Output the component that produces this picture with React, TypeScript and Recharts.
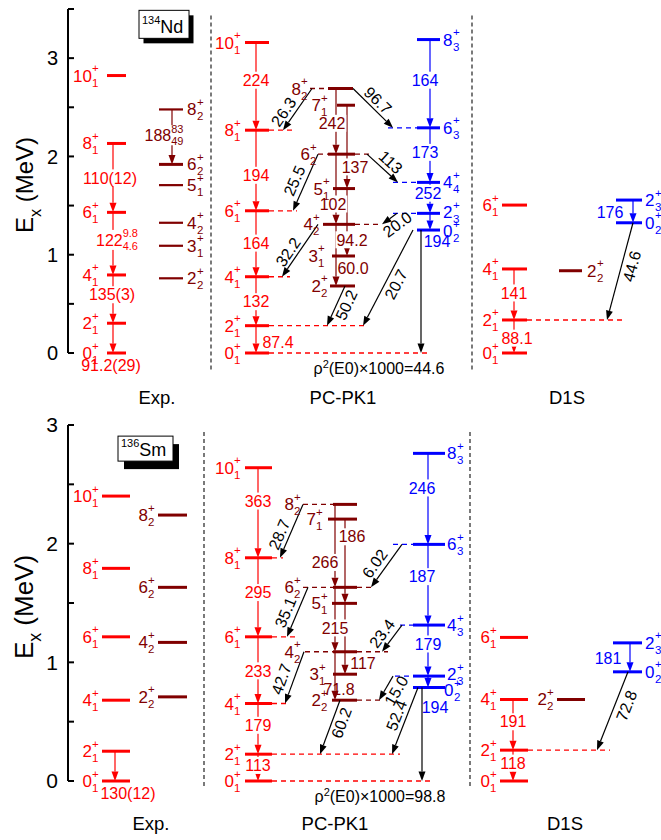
import React from 'react';
import { ComposedChart, XAxis, YAxis, ReferenceLine, ReferenceDot, Scatter } from 'recharts';

const FONT = '"Liberation Sans", Arial, Helvetica, sans-serif';
const RED = '#ff0000';
const DARK = '#800000';
const BLUE = '#0000ff';
const INK = '#000000';

const methods = ['Exp.', 'PC-PK1', 'D1S'];
const yrastStates = ['0_1', '2_1', '4_1', '6_1', '8_1', '10_1'];

// ---- 134Nd: level energies (MeV) and B(E2) values (W.u.) ----
const ndExpYrastE = [0, 0.303, 0.794, 1.431, 2.132, 2.823];
const ndExpYrastBE2 = ['91.2(29)', '135(3)', '122^9.8_4.6', '110(12)']; // 2->0 ... 8->6
const ndExpGammaStates = ['2_2', '3_1', '4_2', '5_1', '6_2', '8_2'];
const ndExpGammaE = [0.76, 1.091, 1.325, 1.708, 1.919, 2.478];
const ndExpGammaBE2 = ['188^83_49']; // 8_2 -> 6_2
const ndPcYrastE = [0, 0.278, 0.776, 1.447, 2.267, 3.159];
const ndPcYrastBE2 = ['87.4', '132', '164', '194', '224'];
const ndPcGammaStates = ['2_2', '3_1', '4_2', '5_1', '6_2', '7_1', '8_2'];
const ndPcGammaE = [0.682, 0.987, 1.309, 1.673, 2.023, 2.521, 2.691];
const ndPcGammaBE2 = ['60.0', '94.2', '102', '137', '242']; // 4->2, 5->3, 6->4, 7->5, 8->6
const ndPcThirdStates = ['0_2', '2_3', '4_4', '6_3', '8_3'];
const ndPcThirdE = [1.251, 1.421, 1.736, 2.291, 3.189];
const ndPcThirdBE2 = ['194', '252', '173', '164'];
const ndPcCrossBE2 = ['26.3', '96.7', '25.5', '113', '32.2', '20.0', '20.7', '50.2'];
const ndPcRhoE0 = 44.6;
const ndD1sYrastE = [0, 0.336, 0.855, 1.505];
const ndD1sYrastBE2 = ['88.1', '141'];
const ndD1sGammaE = [0.837];
const ndD1sThirdE = [1.325, 1.556]; // 0_2, 2_3
const ndD1sBE2 = ['176', '44.6']; // 2_3->0_2, 0_2->2_1

// ---- 136Sm ----
const smExpYrastE = [0, 0.251, 0.681, 1.215, 1.792, 2.401];
const smExpYrastBE2 = ['130(12)'];
const smExpGammaStates = ['2_2', '4_2', '6_2', '8_2'];
const smExpGammaE = [0.709, 1.168, 1.632, 2.241];
const smPcYrastE = [0, 0.226, 0.653, 1.215, 1.881, 2.64];
const smPcYrastBE2 = ['113', '179', '233', '295', '363'];
const smPcGammaStates = ['2_2', '3_1', '4_2', '5_1', '6_2', '7_1', '8_2'];
const smPcGammaE = [0.681, 0.9, 1.089, 1.497, 1.632, 2.207, 2.331];
const smPcGammaBE2 = ['71.8', '117', '215', '186', '266'];
const smPcThirdStates = ['0_2', '2_3', '4_3', '6_3', '8_3'];
const smPcThirdE = [0.788, 0.884, 1.314, 1.994, 2.761];
const smPcThirdBE2 = ['194', '179', '187', '246'];
const smPcCrossBE2 = ['28.7', '6.02', '35.1', '23.4', '42.7', '15.0', '60.2', '52.4'];
const smPcRhoE0 = 98.8;
const smD1sYrastE = [0, 0.26, 0.687, 1.21];
const smD1sYrastBE2 = ['118', '191'];
const smD1sGammaE = [0.687];
const smD1sThirdE = [0.92, 1.164];
const smD1sBE2 = ['181', '72.8'];

type Side = 'L' | 'R';
type Col = { x1: number; x2: number; lx: number; side: Side; w?: number; dl?: number; dr?: number; ly?: number };
type Level = Col & { id: string; j: string; k: string; e: number; color: string };
type Arrow = {
  a: string; b: string; x: number; x2?: number; v: string; c: string;
  t?: number; dx?: number; bg?: boolean; n?: number; s?: number; rho?: number;
};

function band(pre: string, states: string[], energies: number[], color: string, col: Col, tweak: Record<string, Partial<Col>> = {}): Level[] {
  return states.map((st, i) => {
    const [j, k] = st.split('_');
    return { ...col, ...(tweak[st] || {}), id: pre + st, j, k, e: energies[i], color };
  });
}

// approximate Arial advance widths (em)
const CW: Record<string, number> = { '.': 0.278, '(': 0.333, ')': 0.333, '=': 0.584, '×': 0.584, 'ρ': 0.58, E: 0.667 };
const textW = (s: string, fs: number) => [...s].reduce((a, ch) => a + (CW[ch] ?? 0.556) * fs, 0);

function ValueLabel({ x, y, v, color, bg }: { x: number; y: number; v: string; color: string; bg: boolean }) {
  const fs = 16;
  const ss = 11;
  const m = v.match(/^([^^]+)\^([^_]+)_(.+)$/);
  if (m) {
    const mw = textW(m[1], fs);
    const sw = Math.max(textW(m[2], ss), textW(m[3], ss));
    const x0 = x - (mw + sw) / 2;
    const base = y + 6;
    return (
      <g fill={color}>
        {bg && <rect x={x0 - 1} y={y - 10} width={mw + sw + 2} height={20} fill="#fff" />}
        <text x={x0} y={base} fontSize={fs}>{m[1]}</text>
        <text x={x0 + mw} y={base - 8.5} fontSize={ss}>{m[2]}</text>
        <text x={x0 + mw} y={base + 4} fontSize={ss}>{m[3]}</text>
      </g>
    );
  }
  const w = textW(v, fs);
  return (
    <g fill={color}>
      {bg && <rect x={x - w / 2 - 1} y={y - 8.5} width={w + 2} height={17} fill="#fff" />}
      <text x={x} y={y + 5.7} fontSize={fs} textAnchor="middle">{v}</text>
    </g>
  );
}

const levelShape = (lv: Level) => (p: any) => (
  <line x1={p.x1} y1={p.y1} x2={p.x2} y2={p.y2} stroke={lv.color} strokeWidth={lv.w ?? 3} />
);

const dashShape = (color: string) => (p: any) => (
  <line x1={p.x1} y1={p.y1} x2={p.x2} y2={p.y2} stroke={color} strokeWidth={1.3} strokeDasharray="5 4" />
);

const stateLabel = (lv: Level) => (p: any) => {
  const fs = 17;
  const ss = 11.5;
  const base = p.cy + 6 + (lv.ly ?? 0);
  if (lv.side === 'L') {
    const xs = p.cx - 7;
    return (
      <g fill={lv.color}>
        <text x={xs} y={base} fontSize={fs} textAnchor="end">{lv.j}</text>
        <text x={xs} y={base - 9.5} fontSize={ss}>+</text>
        <text x={xs} y={base + 5} fontSize={ss}>{lv.k}</text>
      </g>
    );
  }
  const xs = p.cx + textW(lv.j, fs) + 0.5;
  return (
    <g fill={lv.color}>
      <text x={p.cx} y={base} fontSize={fs}>{lv.j}</text>
      <text x={xs} y={base - 9.5} fontSize={ss}>+</text>
      <text x={xs} y={base + 5} fontSize={ss}>{lv.k}</text>
    </g>
  );
};

const arrowShape = (ar: Arrow) => (p: any) => {
  const { x1, y1, x2, y2 } = p;
  const len = Math.hypot(x2 - x1, y2 - y1) || 1;
  const ux = (x2 - x1) / len;
  const uy = (y2 - y1) / len;
  const hl = 9.5;
  const hw = 3.5;
  const bx = x2 - ux * hl;
  const by = y2 - uy * hl;
  const head = `${x2},${y2} ${bx - uy * hw},${by + ux * hw} ${bx + uy * hw},${by - ux * hw}`;
  let label: React.ReactNode = null;
  if (ar.rho !== undefined) {
    label = (
      <text x={x2 - 42} y={y2 + 21} fontSize={16} textAnchor="middle" fill={INK}>
        ρ<tspan dy={-6.5} fontSize={11}>2</tspan>
        <tspan dy={6.5}>(E0)×1000={ar.rho}</tspan>
      </text>
    );
  } else if (ar.x2 !== undefined) {
    let tx = ux;
    let ty = uy;
    if (tx < 0) { tx = -tx; ty = -ty; }
    const ang = (Math.atan2(ty, tx) * 180) / Math.PI;
    const n = ar.n ?? 9;
    const s = ar.s ?? 0;
    const mx = (x1 + x2) / 2 + ty * n + tx * s;
    const my = (y1 + y2) / 2 - tx * n + ty * s;
    label = (
      <text transform={`translate(${mx},${my}) rotate(${ang})`} y={5.7} fontSize={16} textAnchor="middle" fill={ar.c}>
        {ar.v}
      </text>
    );
  } else {
    const t = ar.t ?? 0.5;
    label = <ValueLabel x={x1 + (ar.dx ?? 0)} y={y1 + (y2 - y1) * t} v={ar.v} color={ar.c} bg={ar.bg ?? true} />;
  }
  return (
    <g>
      <line x1={x1} y1={y1} x2={bx} y2={by} stroke={ar.c} strokeWidth={1.2} />
      <polygon points={head} fill={ar.c} />
      {label}
    </g>
  );
};

type Panel = {
  levels: Level[]; arrows: Arrow[]; yMax: number; yTicks: number[];
  height: number; top: number; bottom: number; methodX: number[]; xMargin: number;
  tickFont: number; titleFont: number; seps: number[]; sepY: [number, number];
  nuclide: [string, string]; box: { x: number; y: number; w: number; h: number; fs: number; sh: [number, number] };
};

// ---------- 134Nd layout ----------
const ndLevels: Level[] = [
  ...band('e', yrastStates, ndExpYrastE, RED, { x1: 107, x2: 126, lx: 99, side: 'L' }),
  ...band('e', ndExpGammaStates, ndExpGammaE, DARK, { x1: 159, x2: 183, lx: 187, side: 'R', w: 2.2 }, { '6_2': { w: 3 } }),
  ...band('p', yrastStates, ndPcYrastE, RED, { x1: 245, x2: 269, lx: 241, side: 'L' }, {
    '0_1': { dr: 430 }, '2_1': { dr: 367 }, '4_1': { dr: 290 }, '6_1': { dr: 297 }, '8_1': { dr: 293 },
  }),
  ...band('p', ndPcGammaStates, ndPcGammaE, DARK, { x1: 328, x2: 355, lx: 328, side: 'L' }, {
    '2_2': { x1: 330 }, '3_1': { x1: 332, lx: 325 }, '4_2': { x1: 323, lx: 320, dr: 382 },
    '5_1': { x1: 333, lx: 330 }, '6_2': { dl: 318, dr: 373, lx: 317 }, '7_1': { x1: 337 },
    '8_2': { x2: 353, dl: 310, lx: 308 },
  }),
  ...band('p', ndPcThirdStates, ndPcThirdE, BLUE, { x1: 417, x2: 440, lx: 443, side: 'R' }, {
    '0_2': { ly: 1 }, '2_3': { dl: 393, ly: -1 }, '4_4': { dl: 393 }, '6_3': { dl: 388 },
  }),
  ...band('d', yrastStates.slice(0, 4), ndD1sYrastE, RED, { x1: 502, x2: 527, lx: 499, side: 'L' }, { '2_1': { dr: 625 } }),
  ...band('d', ['2_2'], ndD1sGammaE, DARK, { x1: 559, x2: 582, lx: 587, side: 'R' }),
  ...band('d', ['0_2', '2_3'], ndD1sThirdE, BLUE, { x1: 616, x2: 642, lx: 645, side: 'R' }),
];

const ndArrows: Arrow[] = [
  { a: 'e2_1', b: 'e0_1', x: 113, v: ndExpYrastBE2[0], c: RED, t: 1.42, dx: -2, bg: false },
  { a: 'e4_1', b: 'e2_1', x: 113, v: ndExpYrastBE2[1], c: RED, t: 0.41, dx: -1 },
  { a: 'e6_1', b: 'e4_1', x: 113, v: ndExpYrastBE2[2], c: RED, t: 0.44, dx: 4 },
  { a: 'e8_1', b: 'e6_1', x: 113, v: ndExpYrastBE2[3], c: RED, t: 0.5, dx: -3 },
  { a: 'e8_2', b: 'e6_2', x: 172, v: ndExpGammaBE2[0], c: DARK, t: 0.47, dx: -8 },

  { a: 'p2_1', b: 'p0_1', x: 256, v: ndPcYrastBE2[0], c: RED, t: 0.61, dx: 22, bg: false },
  { a: 'p4_1', b: 'p2_1', x: 256, v: ndPcYrastBE2[1], c: RED, t: 0.51 },
  { a: 'p6_1', b: 'p4_1', x: 256, v: ndPcYrastBE2[2], c: RED, t: 0.49 },
  { a: 'p8_1', b: 'p6_1', x: 256, v: ndPcYrastBE2[3], c: RED, t: 0.56 },
  { a: 'p10_1', b: 'p8_1', x: 256, v: ndPcYrastBE2[4], c: RED, t: 0.43 },

  { a: 'p4_2', b: 'p2_2', x: 336, v: ndPcGammaBE2[0], c: DARK, t: 0.72, dx: 17, bg: false },
  { a: 'p5_1', b: 'p3_1', x: 347, v: ndPcGammaBE2[1], c: DARK, t: 0.76, dx: 5 },
  { a: 'p6_2', b: 'p4_2', x: 336, v: ndPcGammaBE2[2], c: DARK, t: 0.71, dx: -3 },
  { a: 'p7_1', b: 'p5_1', x: 347, v: ndPcGammaBE2[3], c: DARK, t: 0.74, dx: 8 },
  { a: 'p8_2', b: 'p6_2', x: 336, v: ndPcGammaBE2[4], c: DARK, t: 0.53, dx: -4 },

  { a: 'p2_3', b: 'p0_2', x: 430, v: ndPcThirdBE2[0], c: BLUE, t: 1.7, dx: 7, bg: false },
  { a: 'p4_4', b: 'p2_3', x: 430, v: ndPcThirdBE2[1], c: BLUE, t: 0.35, dx: -2 },
  { a: 'p6_3', b: 'p4_4', x: 430, v: ndPcThirdBE2[2], c: BLUE, t: 0.45, dx: -5 },
  { a: 'p8_3', b: 'p6_3', x: 430, v: ndPcThirdBE2[3], c: BLUE, t: 0.46, dx: -5 },

  { a: 'p8_2', b: 'p8_1', x: 312, x2: 283, v: ndPcCrossBE2[0], c: INK, n: 10, s: -10 },
  { a: 'p8_2', b: 'p6_3', x: 353, x2: 393, v: ndPcCrossBE2[1], c: INK, n: 9, s: -2 },
  { a: 'p6_2', b: 'p6_1', x: 318, x2: 293, v: ndPcCrossBE2[2], c: INK, n: 11, s: -3 },
  { a: 'p6_2', b: 'p4_4', x: 367, x2: 398, v: ndPcCrossBE2[3], c: INK, n: 10, s: 2 },
  { a: 'p4_2', b: 'p4_1', x: 318, x2: 282, v: ndPcCrossBE2[4], c: INK, n: 9, s: -8 },
  { a: 'p2_3', b: 'p4_2', x: 397, x2: 382, v: ndPcCrossBE2[5], c: INK, n: -9, s: 3 },
  { a: 'p0_2', b: 'p2_1', x: 413, x2: 363, v: ndPcCrossBE2[6], c: INK, n: -10, s: -2 },
  { a: 'p2_2', b: 'p2_1', x: 345, x2: 327, v: ndPcCrossBE2[7], c: INK, n: -9, s: 5 },
  { a: 'p0_2', b: 'p0_1', x: 421, v: '', c: INK, rho: ndPcRhoE0 },

  { a: 'd2_1', b: 'd0_1', x: 514, v: ndD1sYrastBE2[0], c: RED, t: 0.55, dx: 3 },
  { a: 'd4_1', b: 'd2_1', x: 514, v: ndD1sYrastBE2[1], c: RED, t: 0.47 },
  { a: 'd2_3', b: 'd0_2', x: 633, v: ndD1sBE2[0], c: BLUE, t: 0.52, dx: -23, bg: false },
  { a: 'd0_2', b: 'd2_1', x: 633, x2: 607, v: ndD1sBE2[1], c: INK, n: -10, s: 8 },
];

// ---------- 136Sm layout ----------
const smLevels: Level[] = [
  ...band('e', yrastStates, smExpYrastE, RED, { x1: 102, x2: 130, lx: 99, side: 'L' }),
  ...band('e', smExpGammaStates, smExpGammaE, DARK, { x1: 158, x2: 187, lx: 155, side: 'L' }),
  ...band('p', yrastStates, smPcYrastE, RED, { x1: 245, x2: 272, lx: 241, side: 'L' }, {
    '0_1': { dr: 432 }, '2_1': { dr: 400 }, '4_1': { dr: 288 }, '6_1': { dr: 295 }, '8_1': { dr: 283 },
  }),
  ...band('p', smPcGammaStates, smPcGammaE, DARK, { x1: 333, x2: 357, lx: 328, side: 'L' }, {
    '2_2': { x1: 332, dr: 382 }, '3_1': { lx: 326 }, '4_2': { dl: 305, dr: 388, lx: 301 },
    '5_1': { x1: 332 }, '6_2': { dl: 303, dr: 373, lx: 301 }, '7_1': { x1: 328, lx: 323 },
    '8_2': { dl: 303, lx: 301 },
  }),
  ...band('p', smPcThirdStates, smPcThirdE, BLUE, { x1: 413, x2: 445, lx: 447, side: 'R' }, {
    '0_2': { ly: 3, lx: 444 }, '2_3': { dl: 395, ly: -2 }, '4_3': { dl: 400 }, '6_3': { dl: 393 },
  }),
  ...band('d', yrastStates.slice(0, 4), smD1sYrastE, RED, { x1: 500, x2: 528, lx: 497, side: 'L' }, { '2_1': { dr: 610 } }),
  ...band('d', ['2_2'], smD1sGammaE, DARK, { x1: 557, x2: 585, lx: 554, side: 'L' }),
  ...band('d', ['0_2', '2_3'], smD1sThirdE, BLUE, { x1: 613, x2: 642, lx: 645, side: 'R' }),
];

const smArrows: Arrow[] = [
  { a: 'e2_1', b: 'e0_1', x: 115, v: smExpYrastBE2[0], c: RED, t: 1.4, dx: 13, bg: false },

  { a: 'p2_1', b: 'p0_1', x: 258, v: smPcYrastBE2[0], c: RED, t: 0.42 },
  { a: 'p4_1', b: 'p2_1', x: 258, v: smPcYrastBE2[1], c: RED, t: 0.43 },
  { a: 'p6_1', b: 'p4_1', x: 258, v: smPcYrastBE2[2], c: RED, t: 0.51 },
  { a: 'p8_1', b: 'p6_1', x: 258, v: smPcYrastBE2[3], c: RED, t: 0.44 },
  { a: 'p10_1', b: 'p8_1', x: 258, v: smPcYrastBE2[4], c: RED, t: 0.37 },

  { a: 'p4_2', b: 'p2_2', x: 335, v: smPcGammaBE2[0], c: DARK, t: 0.77, dx: 4, bg: false },
  { a: 'p5_1', b: 'p3_1', x: 345, v: smPcGammaBE2[1], c: DARK, t: 0.84, dx: 18, bg: false },
  { a: 'p6_2', b: 'p4_2', x: 335, v: smPcGammaBE2[2], c: DARK, t: 0.63 },
  { a: 'p7_1', b: 'p5_1', x: 345, v: smPcGammaBE2[3], c: DARK, t: 0.21, dx: 7 },
  { a: 'p8_2', b: 'p6_2', x: 335, v: smPcGammaBE2[4], c: DARK, t: 0.7, dx: -10 },

  { a: 'p2_3', b: 'p0_2', x: 428, v: smPcThirdBE2[0], c: BLUE, t: 2.7, dx: 7, bg: false },
  { a: 'p4_3', b: 'p2_3', x: 428, v: smPcThirdBE2[1], c: BLUE, t: 0.37 },
  { a: 'p6_3', b: 'p4_3', x: 428, v: smPcThirdBE2[2], c: BLUE, t: 0.4, dx: -6 },
  { a: 'p8_3', b: 'p6_3', x: 428, v: smPcThirdBE2[3], c: BLUE, t: 0.38, dx: -6 },

  { a: 'p8_2', b: 'p8_1', x: 303, x2: 280, v: smPcCrossBE2[0], c: INK, n: 10, s: -8 },
  { a: 'p6_3', b: 'p6_2', x: 402, x2: 371, v: smPcCrossBE2[1], c: INK, n: 11, s: -5 },
  { a: 'p6_2', b: 'p6_1', x: 308, x2: 287, v: smPcCrossBE2[2], c: INK, n: 11, s: -5 },
  { a: 'p4_3', b: 'p4_2', x: 402, x2: 382, v: smPcCrossBE2[3], c: INK, n: 11, s: -2 },
  { a: 'p4_2', b: 'p4_1', x: 304, x2: 285, v: smPcCrossBE2[4], c: INK, n: 12, s: -6 },
  { a: 'p2_3', b: 'p2_2', x: 393, x2: 379, v: smPcCrossBE2[5], c: INK, n: -10, s: 3 },
  { a: 'p2_2', b: 'p2_1', x: 340, x2: 320, v: smPcCrossBE2[6], c: INK, n: -9, s: 8 },
  { a: 'p0_2', b: 'p2_1', x: 418, x2: 392, v: smPcCrossBE2[7], c: INK, n: 10, s: 2 },
  { a: 'p0_2', b: 'p0_1', x: 422, v: '', c: INK, rho: smPcRhoE0 },

  { a: 'd2_1', b: 'd0_1', x: 513, v: smD1sYrastBE2[0], c: RED, t: 0.42 },
  { a: 'd4_1', b: 'd2_1', x: 513, v: smD1sYrastBE2[1], c: RED, t: 0.44 },
  { a: 'd2_3', b: 'd0_2', x: 630, v: smD1sBE2[0], c: BLUE, t: 0.53, dx: -22, bg: false },
  { a: 'd0_2', b: 'd2_1', x: 628, x2: 597, v: smD1sBE2[1], c: INK, n: -11, s: 10 },
];

const ndPanel: Panel = {
  levels: ndLevels, arrows: ndArrows, yMax: 3.5, yTicks: [0, 0.5, 1, 1.5, 2, 2.5, 3, 3.5],
  height: 410, top: 9, bottom: 27, methodX: [157, 343, 567], xMargin: 37.5, tickFont: 20, titleFont: 24,
  seps: [211, 472], sepY: [3.434, -0.17], nuclide: ['134', 'Nd'],
  box: { x: 164, y: 3.344, w: 50, h: 28, fs: 18, sh: [4.5, 5] },
};

const smPanel: Panel = {
  levels: smLevels, arrows: smArrows, yMax: 3, yTicks: [0, 0.5, 1, 1.5, 2, 2.5, 3],
  height: 430, top: 15, bottom: 29, methodX: [151, 335, 565], xMargin: 36, tickFont: 21, titleFont: 26,
  seps: [204, 470], sepY: [2.94, -0.06], nuclide: ['136', 'Sm'],
  box: { x: 145.5, y: 2.801, w: 55, h: 25, fs: 18, sh: [6, 8] },
};

function LevelScheme({ p }: { p: Panel }) {
  const byId: Record<string, Level> = {};
  p.levels.forEach((lv) => { byId[lv.id] = lv; });
  // level centres, so the axes have a series to scale against
  const pts = p.levels.map((lv) => ({ x: (lv.x1 + lv.x2) / 2, e: lv.e }));
  const box = p.box;
  return (
    <ComposedChart width={661} height={p.height} margin={{ top: p.top, right: 0, bottom: p.bottom, left: 8 }}>
      <XAxis
        type="number" dataKey="x" domain={[68, 661]} ticks={p.methodX} interval={0} allowDataOverflow
        tickFormatter={(_v: number, i: number) => methods[i]}
        axisLine={false} tickLine={false} tickSize={0} tickMargin={p.xMargin}
        tick={{ fill: '#000', fontSize: 18.5 }} height={30}
      />
      <YAxis
        type="number" dataKey="e" domain={[0, p.yMax]} ticks={p.yTicks} interval={0} width={60} allowDataOverflow
        axisLine={{ stroke: '#000', strokeWidth: 2 }} tickLine={{ stroke: '#000', strokeWidth: 2 }}
        tickSize={-6} tickMargin={16} tick={{ fill: '#000', fontSize: p.tickFont }}
        tickFormatter={(v: number) => (Number.isInteger(v) ? String(v) : '')}
        label={{
          content: (lp: any) => {
            const vb = lp.viewBox || { x: 8, y: p.top, height: 350 };
            const cy = vb.y + vb.height / 2 + 4;
            return (
              <text transform={`translate(33,${cy}) rotate(-90)`} textAnchor="middle" fontSize={p.titleFont} fill="#000">
                E<tspan dy={8} fontSize={p.titleFont * 0.68}>x</tspan>
                <tspan dy={-8}> (MeV)</tspan>
              </text>
            );
          },
        }}
      />
      <Scatter data={pts} dataKey="e" fill="none" shape={() => <g />} isAnimationActive={false} />

      {p.seps.map((sx) => (
        <ReferenceLine
          key={`sep${sx}`} ifOverflow="visible"
          segment={[{ x: sx, y: p.sepY[0] }, { x: sx, y: p.sepY[1] }]}
          shape={(q: any) => <line x1={q.x1} y1={q.y1} x2={q.x2} y2={q.y2} stroke="#222" strokeWidth={1.2} strokeDasharray="4 3" />}
        />
      ))}

      {p.levels.map((lv) => (
        <ReferenceLine key={`lv${lv.id}`} ifOverflow="visible"
          segment={[{ x: lv.x1, y: lv.e }, { x: lv.x2, y: lv.e }]} shape={levelShape(lv)} />
      ))}
      {p.levels.filter((lv) => lv.dl !== undefined).map((lv) => (
        <ReferenceLine key={`dl${lv.id}`} ifOverflow="visible"
          segment={[{ x: lv.dl as number, y: lv.e }, { x: lv.x1, y: lv.e }]} shape={dashShape(lv.color)} />
      ))}
      {p.levels.filter((lv) => lv.dr !== undefined).map((lv) => (
        <ReferenceLine key={`dr${lv.id}`} ifOverflow="visible"
          segment={[{ x: lv.x2, y: lv.e }, { x: lv.dr as number, y: lv.e }]} shape={dashShape(lv.color)} />
      ))}
      {p.levels.map((lv) => (
        <ReferenceDot key={`lb${lv.id}`} ifOverflow="visible" x={lv.lx} y={lv.e} r={1} shape={stateLabel(lv)} />
      ))}

      {p.arrows.map((ar, i) => (
        <ReferenceLine key={`ar${i}`} ifOverflow="visible"
          segment={[{ x: ar.x, y: byId[ar.a].e }, { x: ar.x2 ?? ar.x, y: byId[ar.b].e }]}
          shape={arrowShape(ar)} />
      ))}

      <ReferenceDot
        ifOverflow="visible" x={box.x} y={box.y} r={1}
        shape={(q: any) => {
          const bx = q.cx - box.w / 2;
          const by = q.cy - box.h / 2;
          return (
            <g>
              <rect x={bx + box.sh[0]} y={by + box.sh[1]} width={box.w} height={box.h} fill="#000" />
              <rect x={bx} y={by} width={box.w} height={box.h} fill="#fff" stroke="#000" strokeWidth={1} />
              <text x={bx + 3} y={by + box.h - 5.5} fontSize={box.fs} fill="#000">
                <tspan fontSize={11} dy={-9}>{p.nuclide[0]}</tspan>
                <tspan dy={9}>{p.nuclide[1]}</tspan>
              </text>
            </g>
          );
        }}
      />
    </ComposedChart>
  );
}

export default function App() {
  return (
    <div style={{ position: 'absolute', left: 0, top: 0, width: 661, height: 840, background: '#fff', fontFamily: FONT }}>
      <LevelScheme p={ndPanel} />
      <LevelScheme p={smPanel} />
    </div>
  );
}
